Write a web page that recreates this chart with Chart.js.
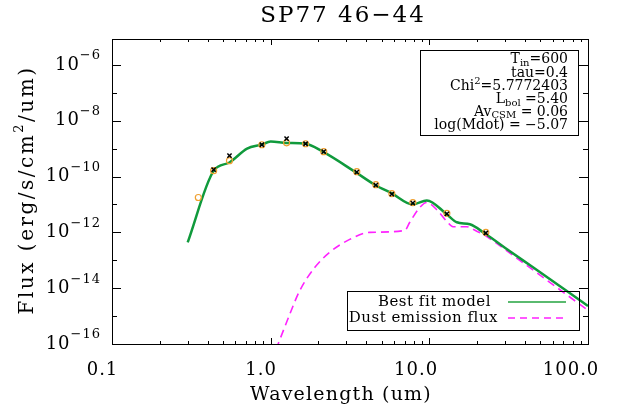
<!DOCTYPE html>
<html>
<head>
<meta charset="utf-8">
<script src="https://cdn.jsdelivr.net/npm/chart.js@4.4.0/dist/chart.umd.min.js"></script>
<style>
  html, body { margin: 0; padding: 0; background: #fff; }
  #wrap { width: 634px; height: 407px; }
</style>
</head>
<body>
<div id="wrap"><canvas id="sed"></canvas></div>
<script>
// best fit model SED
const modelWave = [0.30, 0.437, 0.55, 0.71, 0.88, 1.0, 1.26, 1.66, 2.13, 3.39, 4.53, 5.8, 7.87, 9.64, 12.9, 14.9, 18.0, 22.4, 32.2, 45.0, 100.0];
const modelFlux = [4.4e-13, 1.6e-10, 3.2e-10, 1.0e-9, 1.4e-9, 1.8e-9, 1.6e-9, 1.5e-9, 7.8e-10, 1.5e-10, 5.1e-11, 2.5e-11, 1.0e-11, 1.4e-11, 4.4e-12, 2.3e-12, 1.95e-12, 9.1e-13, 2.1e-13, 5.6e-14, 2.3e-15];

// dust emission component
const dustWave = [1.08, 1.32, 1.52, 1.90, 2.36, 3.15, 4.22, 7.0, 7.53, 8.71, 9.64, 11.1, 12.9, 14.1, 17.2, 19.9, 22.4, 32.2, 100.0];
const dustFlux = [6.3e-17, 1.17e-15, 7.9e-15, 5.6e-14, 1.95e-13, 5.6e-13, 1.0e-12, 1.17e-12, 2.3e-12, 7.8e-12, 1.17e-11, 6.6e-12, 2.45e-12, 1.6e-12, 1.6e-12, 1.1e-12, 7.8e-13, 1.8e-13, 1.6e-15];

// photometry: model fluxes (circles) and observed fluxes (crosses)
const photWave = [0.35, 0.437, 0.55, 0.88, 1.26, 1.66, 2.16, 3.49, 4.6, 5.8, 7.87, 12.9, 22.7];
const photModel = [1.78e-11, 1.62e-10, 3.7e-10, 1.38e-9, 1.62e-9, 1.5e-9, 7.8e-10, 1.5e-10, 5.1e-11, 2.45e-11, 1.17e-11, 4.8e-12, 1.0e-12];
const photObs = [null, 1.78e-10, 5.6e-10, 1.38e-9, 2.3e-9, 1.5e-9, 7.8e-10, 1.45e-10, 4.9e-11, 2.35e-11, 1.12e-11, 4.6e-12, 9.5e-13];

// axis ticks
const xTickValues = [0.1, 1, 10, 100];
const xTickLabels = ['0.1', '1.0', '10.0', '100.0'];
const yTickExps = [-6, -8, -10, -12, -14, -16];

const fitParams = ['600', '0.4', '5.7772403', '5.40', '0.06', '\u22125.07'];

const FONT = '"DejaVu Serif", serif';

function pts(xs, ys) {
  return xs.map((x, i) => ({ x: x, y: ys[i] })).filter(p => p.y !== null);
}

// draw text made of pieces [text, size, raise]; right aligned at x
function richText(ctx, parts, x, y) {
  let w = 0;
  parts.forEach(p => { ctx.font = p[1] + 'px ' + FONT; w += ctx.measureText(p[0]).width; });
  let cx = x - w;
  ctx.textAlign = 'left';
  parts.forEach(p => {
    ctx.font = p[1] + 'px ' + FONT;
    ctx.fillText(p[0], cx, y - (p[2] || 0));
    cx += ctx.measureText(p[0]).width;
  });
}

const idlFrame = {
  id: 'idlFrame',
  afterDraw(chart) {
    const ctx = chart.ctx;
    const a = chart.chartArea;
    const xs = chart.scales.x, ys = chart.scales.y;
    ctx.save();
    ctx.strokeStyle = '#000';
    ctx.fillStyle = '#000';
    ctx.lineWidth = 1;
    ctx.strokeRect(Math.round(a.left) + 0.5, Math.round(a.top) + 0.5,
      Math.round(a.right - a.left), Math.round(a.bottom - a.top));

    // x ticks on bottom and top
    ctx.beginPath();
    for (let d = 0.1; d < 100; d *= 10) {
      for (let m = 1; m <= 9; m++) {
        const px = Math.round(xs.getPixelForValue(d * m)) + 0.5;
        const len = m === 1 ? 6 : 3;
        ctx.moveTo(px, a.bottom); ctx.lineTo(px, a.bottom - len);
        ctx.moveTo(px, a.top); ctx.lineTo(px, a.top + len);
      }
    }
    // y ticks on left and right
    for (let e = -16; e <= -6; e++) {
      const py = Math.round(ys.getPixelForValue(Math.pow(10, e))) + 0.5;
      const len = e % 2 === 0 ? 9 : 5;
      ctx.moveTo(a.left, py); ctx.lineTo(a.left + len, py);
      ctx.moveTo(a.right, py); ctx.lineTo(a.right - len, py);
    }
    ctx.stroke();

    // x tick labels
    ctx.font = '18px ' + FONT;
    ctx.textBaseline = 'middle';
    ctx.letterSpacing = '1px';
    xTickValues.forEach((v, i) => {
      const px = xs.getPixelForValue(v);
      const w = ctx.measureText(xTickLabels[i]).width;
      ctx.textAlign = 'center';
      ctx.fillText(xTickLabels[i], px - 0.3 * w, 370);
    });

    // y tick labels as powers of ten
    yTickExps.forEach(e => {
      const py = ys.getPixelForValue(Math.pow(10, e));
      richText(ctx, [['10', 18, 0], ['\u2212' + Math.abs(e), 13, 9]], 101, py);
    });
    ctx.letterSpacing = '0px';

    // title
    ctx.textAlign = 'center';
    ctx.font = '23px ' + FONT;
    ctx.letterSpacing = '2px';
    ctx.fillText('SP77 46\u221244', 343, 16);

    // axis titles
    ctx.font = '19px ' + FONT;
    ctx.letterSpacing = '1.2px';
    ctx.fillText('Wavelength (um)', 341, 395);
    ctx.save();
    ctx.translate(28, 190);
    ctx.rotate(-Math.PI / 2);
    ctx.textAlign = 'left';
    ctx.font = '20px ' + FONT;
    ctx.letterSpacing = '2.5px';
    const ta = 'Flux (erg/s/cm', tb = '/um)';
    const wa = ctx.measureText(ta).width, wb = ctx.measureText(tb).width;
    ctx.font = '13px ' + FONT;
    const ws = ctx.measureText('2').width;
    const tot = wa + ws + wb;
    ctx.font = '20px ' + FONT;
    ctx.fillText(ta, -tot / 2, 0);
    ctx.font = '13px ' + FONT;
    ctx.fillText('2', -tot / 2 + wa, -8);
    ctx.font = '20px ' + FONT;
    ctx.fillText(tb, -tot / 2 + wa + ws, 0);
    ctx.restore();
    ctx.letterSpacing = '0px';

    // fit parameters box
    ctx.strokeRect(420.5, 50.5, 158, 85);
    ctx.textBaseline = 'alphabetic';
    const rx = 568;
    richText(ctx, [['T', 14, 0], ['in', 10, -3], ['=' + fitParams[0], 14, 0]], rx, 63);
    richText(ctx, [['tau=' + fitParams[1], 14, 0]], rx, 77);
    richText(ctx, [['Chi', 14, 0], ['2', 10, 6], ['=' + fitParams[2], 14, 0]], rx, 90);
    richText(ctx, [['L', 14, 0], ['bol', 10, -3], [' =' + fitParams[3], 14, 0]], rx, 103);
    richText(ctx, [['Av', 14, 0], ['CSM', 10, -2], [' = ' + fitParams[4], 14, 0]], rx, 116);
    richText(ctx, [['log(Mdot) = ' + fitParams[5], 14, 0]], rx, 129);

    // legend
    ctx.strokeRect(347.5, 291.5, 232, 39);
    ctx.font = '15px ' + FONT;
    ctx.letterSpacing = '0.5px';
    ctx.textAlign = 'right';
    ctx.textBaseline = 'middle';
    ctx.fillText('Best fit model', 491, 302);
    ctx.fillText('Dust emission flux', 498, 318);
    ctx.letterSpacing = '0px';
    ctx.lineWidth = 1.5;
    ctx.strokeStyle = '#23a33f';
    ctx.beginPath(); ctx.moveTo(508, 302); ctx.lineTo(566, 302); ctx.stroke();
    ctx.strokeStyle = '#ff22ff';
    ctx.setLineDash([7, 5]);
    ctx.beginPath(); ctx.moveTo(508, 318); ctx.lineTo(566, 318); ctx.stroke();
    ctx.restore();
  }
};

new Chart(document.getElementById('sed'), {
  type: 'scatter',
  data: {
    datasets: [
      {
        label: 'Observed',
        data: pts(photWave, photObs),
        pointStyle: 'crossRot',
        pointRadius: 3,
        borderColor: '#000',
        borderWidth: 1.5,
        order: 0
      },
      {
        label: 'Model photometry',
        data: pts(photWave, photModel),
        pointStyle: 'circle',
        pointRadius: 3,
        backgroundColor: 'rgba(0,0,0,0)',
        borderColor: '#f0a030',
        borderWidth: 1.2,
        order: 1
      },
      {
        label: 'Best fit model',
        data: pts(modelWave, modelFlux),
        showLine: true,
        pointRadius: 0,
        borderColor: '#109a3c',
        borderWidth: 2.5,
        cubicInterpolationMode: 'monotone',
        order: 2
      },
      {
        label: 'Dust emission flux',
        data: pts(dustWave, dustFlux),
        showLine: true,
        pointRadius: 0,
        borderColor: '#ff22ff',
        borderWidth: 1.6,
        borderDash: [8, 5],
        cubicInterpolationMode: 'monotone',
        order: 3
      }
    ]
  },
  options: {
    responsive: true,
    maintainAspectRatio: false,
    animation: false,
    devicePixelRatio: 1,
    layout: { padding: { left: 112, right: 46, top: 39, bottom: 63 } },
    plugins: { legend: { display: false }, tooltip: { enabled: false } },
    scales: {
      x: { type: 'logarithmic', min: 0.1, max: 100, display: false },
      y: { type: 'logarithmic', min: 1e-16, max: 8.5e-6, display: false }
    }
  },
  plugins: [idlFrame]
});
</script>
</body>
</html>
